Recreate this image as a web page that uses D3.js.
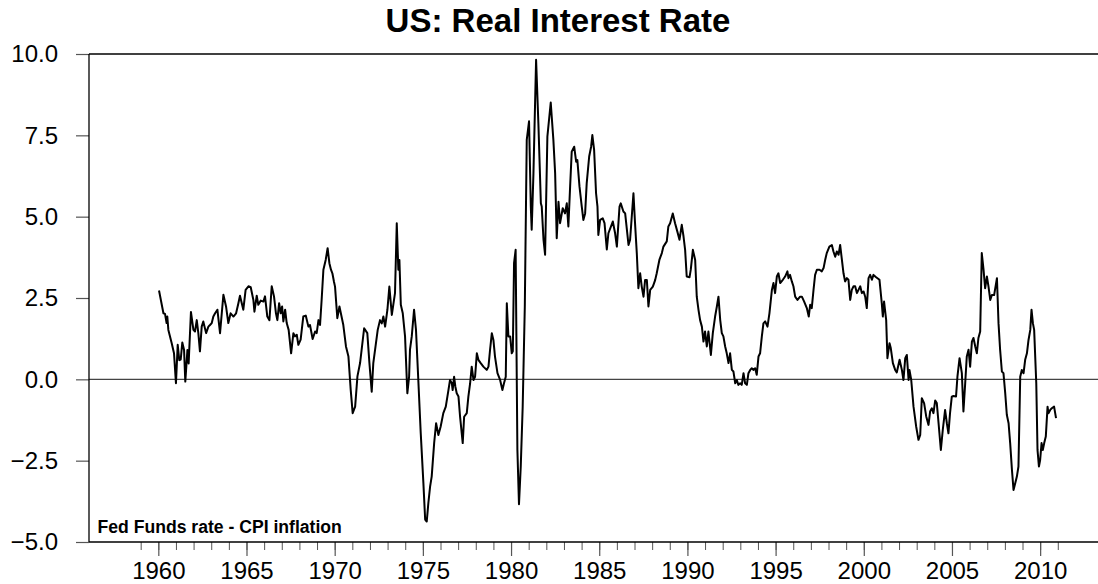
<!DOCTYPE html>
<html>
<head>
<meta charset="utf-8">
<script src="https://cdn.jsdelivr.net/npm/d3@7"></script>
<style>
  body { margin: 0; background: #fff; }
  svg { display: block; font-family: "Liberation Sans", Arial, sans-serif; }
</style>
</head>
<body>
<script>
// real rate readings, [year, percent], grouped by decade
var rate1960s = [[1960.04,2.73],[1960.29,2.03],[1960.38,2.01],[1960.47,1.73],[1960.51,1.93],[1960.57,1.52],[1960.76,1.11],[1960.89,0.8],[1961.0,-0.12],[1961.1,1.06],[1961.19,0.59],[1961.27,0.61],[1961.36,1.13],[1961.46,0.9],[1961.53,-0.07],[1961.65,0.9],[1961.72,0.49],[1961.85,2.07],[1961.99,1.52],[1962.08,1.47],[1962.18,1.82],[1962.27,1.42],[1962.36,0.86],[1962.46,1.62],[1962.55,1.78],[1962.71,1.42],[1962.84,1.62],[1962.93,1.67],[1963.03,1.73],[1963.12,1.93],[1963.22,2.03],[1963.35,2.14],[1963.5,1.42],[1963.69,2.6],[1963.84,2.24],[1963.97,1.73],[1964.1,2.03],[1964.26,1.93],[1964.41,2.03],[1964.54,2.34],[1964.63,2.57],[1964.82,2.14],[1964.95,2.75],[1965.11,2.86],[1965.24,2.83],[1965.39,2.44],[1965.45,2.08],[1965.58,2.57],[1965.67,2.29],[1965.81,2.42],[1965.96,2.39],[1966.05,2.55],[1966.18,1.93],[1966.3,1.82],[1966.43,2.86],[1966.56,2.55],[1966.67,2.03],[1966.75,1.82],[1966.85,2.34],[1966.94,2.03],[1967.02,2.24],[1967.09,1.78],[1967.19,2.14],[1967.28,1.73],[1967.39,1.52],[1967.53,0.8],[1967.66,1.42],[1967.75,1.32],[1967.85,1.37],[1967.94,1.06],[1968.07,1.22],[1968.22,1.93],[1968.36,1.96],[1968.51,1.62],[1968.6,1.67],[1968.75,1.24],[1968.89,1.47],[1968.98,1.42],[1969.08,1.82],[1969.17,1.67],[1969.26,2.44],[1969.36,3.37],[1969.49,3.67],[1969.6,4.03],[1969.7,3.57],[1969.79,3.37],[1969.87,3.26],[1969.96,3.0]];
var rate1970s = [[1970.02,2.85],[1970.15,1.88],[1970.27,2.24],[1970.49,1.67],[1970.64,1.01],[1970.78,0.7],[1970.91,-0.33],[1971.02,-1.04],[1971.16,-0.84],[1971.29,0.09],[1971.44,0.5],[1971.67,1.57],[1971.85,1.42],[1971.97,0.5],[1972.1,-0.38],[1972.19,0.5],[1972.44,1.52],[1972.57,1.82],[1972.67,1.72],[1972.76,1.93],[1972.86,1.62],[1972.99,2.14],[1973.1,2.85],[1973.24,1.98],[1973.42,2.65],[1973.52,4.8],[1973.61,3.37],[1973.67,3.67],[1973.75,2.29],[1973.86,2.03],[1973.99,1.32],[1974.12,-0.43],[1974.22,0.08],[1974.27,0.91],[1974.37,1.32],[1974.5,2.14],[1974.61,1.52],[1974.75,-0.12],[1974.88,-1.66],[1975.03,-3.19],[1975.13,-4.31],[1975.22,-4.37],[1975.31,-3.81],[1975.41,-3.3],[1975.5,-2.99],[1975.64,-1.96],[1975.75,-1.35],[1975.88,-1.71],[1976.01,-1.45],[1976.16,-1.04],[1976.3,-0.84],[1976.45,-0.33],[1976.54,-0.02],[1976.64,-0.12],[1976.69,-0.33],[1976.77,0.08],[1976.84,-0.22],[1976.92,-0.43],[1977.02,-0.53],[1977.11,-1.15],[1977.26,-1.96],[1977.34,-1.15],[1977.49,-1.04],[1977.58,-0.53],[1977.68,-0.12],[1977.77,0.39],[1977.87,-0.02],[1977.96,0.08],[1978.06,0.8],[1978.15,0.6],[1978.28,0.5],[1978.43,0.39],[1978.62,0.29],[1978.72,0.39],[1978.81,0.91],[1978.91,1.42],[1979.0,1.21],[1979.09,0.7],[1979.23,0.19],[1979.38,-0.02],[1979.51,-0.33],[1979.6,-0.12],[1979.7,0.08],[1979.76,2.34],[1979.85,1.32],[1979.95,1.32]];
var rate1980s = [[1980.04,0.8],[1980.1,0.86],[1980.17,3.57],[1980.26,3.98],[1980.36,-2.17],[1980.45,-3.84],[1980.55,-2.68],[1980.66,-0.84],[1980.78,2.24],[1980.89,7.36],[1981.02,7.93],[1981.12,5.31],[1981.17,4.6],[1981.27,6.33],[1981.42,9.82],[1981.55,7.87],[1981.69,5.41],[1981.74,5.31],[1981.84,4.29],[1981.93,3.83],[1982.06,7.46],[1982.25,8.51],[1982.4,7.36],[1982.5,6.33],[1982.59,4.34],[1982.69,5.46],[1982.78,4.8],[1982.93,5.26],[1983.06,5.1],[1983.16,5.41],[1983.25,4.7],[1983.35,5.93],[1983.44,7.0],[1983.58,7.15],[1983.69,6.69],[1983.76,6.74],[1983.88,5.93],[1984.01,5.31],[1984.1,4.9],[1984.2,5.1],[1984.29,6.03],[1984.43,6.85],[1984.54,7.15],[1984.61,7.51],[1984.71,7.05],[1984.82,5.72],[1984.9,5.31],[1984.95,4.44],[1985.05,4.9],[1985.2,4.95],[1985.3,4.8],[1985.43,3.99],[1985.52,4.49],[1985.77,4.85],[1985.9,4.49],[1986.0,4.08],[1986.15,5.31],[1986.22,5.41],[1986.37,5.16],[1986.47,5.1],[1986.66,4.13],[1986.75,4.29],[1986.94,5.72],[1987.03,4.8],[1987.13,3.88],[1987.22,2.8],[1987.32,3.26],[1987.41,2.85],[1987.51,2.54],[1987.6,3.05],[1987.7,3.05],[1987.79,2.24],[1987.89,2.75],[1988.04,2.85],[1988.17,3.05],[1988.26,3.26],[1988.41,3.67],[1988.55,3.88],[1988.64,4.08],[1988.83,4.24],[1988.92,4.7],[1989.02,4.8],[1989.17,5.1],[1989.3,4.8],[1989.43,4.54],[1989.55,4.29],[1989.68,4.75],[1989.78,4.39],[1989.87,3.98],[1989.96,3.16]];
var rate1990s = [[1990.12,3.14],[1990.19,3.37],[1990.31,3.98],[1990.44,3.67],[1990.53,2.54],[1990.63,2.13],[1990.72,1.82],[1990.82,1.62],[1990.91,1.16],[1991.0,1.47],[1991.1,1.01],[1991.19,1.47],[1991.33,0.75],[1991.44,1.42],[1991.57,1.93],[1991.67,2.24],[1991.76,2.54],[1991.86,1.82],[1991.95,1.42],[1992.04,1.32],[1992.14,1.01],[1992.23,0.8],[1992.33,0.5],[1992.42,0.8],[1992.52,0.29],[1992.61,0.24],[1992.71,-0.12],[1992.8,-0.02],[1992.89,-0.17],[1992.99,-0.12],[1993.08,-0.17],[1993.18,0.19],[1993.27,-0.12],[1993.37,-0.17],[1993.46,0.19],[1993.56,0.29],[1993.65,0.34],[1993.75,0.29],[1993.84,0.34],[1993.93,0.14],[1994.03,0.7],[1994.12,0.8],[1994.22,1.32],[1994.31,1.72],[1994.41,1.78],[1994.54,1.62],[1994.65,2.03],[1994.79,2.75],[1994.88,2.96],[1994.97,2.65],[1995.07,3.16],[1995.16,3.26],[1995.26,2.96],[1995.41,3.06],[1995.54,3.16],[1995.67,3.32],[1995.73,3.11],[1995.82,3.21],[1995.92,3.01],[1996.01,2.86],[1996.11,2.54],[1996.24,2.44],[1996.39,2.54],[1996.49,2.54],[1996.62,2.39],[1996.77,2.19],[1996.88,1.93],[1996.96,2.29],[1997.05,2.19],[1997.15,2.75],[1997.24,3.21],[1997.34,3.37],[1997.49,3.37],[1997.62,3.32],[1997.72,3.42],[1997.81,3.67],[1997.9,3.88],[1998.05,4.08],[1998.19,4.13],[1998.28,3.93],[1998.38,3.77],[1998.47,3.93],[1998.57,3.83],[1998.66,4.13],[1998.76,3.67],[1998.85,3.26],[1998.94,3.01],[1999.04,3.11],[1999.13,3.06],[1999.23,2.44],[1999.32,2.75],[1999.42,2.86],[1999.51,2.86],[1999.61,2.65],[1999.7,2.75],[1999.8,2.86],[1999.89,2.65],[1999.99,2.7]];
var rate2000s = [[2000.08,2.54],[2000.17,2.19],[2000.27,3.11],[2000.36,3.21],[2000.46,3.06],[2000.55,3.21],[2000.7,3.14],[2000.89,3.06],[2001.02,2.34],[2001.08,1.93],[2001.15,2.39],[2001.27,1.82],[2001.34,0.65],[2001.46,1.11],[2001.53,0.96],[2001.65,0.5],[2001.78,0.29],[2001.87,0.21],[2002.03,0.6],[2002.16,0.29],[2002.25,-0.02],[2002.35,0.65],[2002.44,0.75],[2002.54,-0.02],[2002.59,0.29],[2002.69,-0.02],[2002.82,-0.84],[2002.97,-1.45],[2003.1,-1.86],[2003.2,-1.71],[2003.29,-0.58],[2003.42,-0.73],[2003.54,-1.14],[2003.67,-1.4],[2003.76,-0.99],[2003.86,-0.89],[2003.95,-1.04],[2004.05,-0.65],[2004.14,-0.73],[2004.24,-1.35],[2004.37,-2.17],[2004.48,-1.55],[2004.61,-0.94],[2004.71,-1.35],[2004.8,-1.66],[2004.89,-1.04],[2004.99,-0.53],[2005.08,-0.51],[2005.23,-0.53],[2005.31,0.08],[2005.43,0.65],[2005.56,0.19],[2005.65,-0.99],[2005.75,-0.12],[2005.84,0.7],[2005.94,0.91],[2006.03,0.39],[2006.13,1.16],[2006.22,1.27],[2006.32,1.01],[2006.41,0.8],[2006.5,1.27],[2006.6,1.47],[2006.69,3.88],[2006.79,3.37],[2006.88,2.8],[2006.98,3.16],[2007.07,2.86],[2007.17,2.44],[2007.26,2.59],[2007.39,2.59],[2007.55,3.11],[2007.64,1.72],[2007.73,0.91],[2007.83,0.24],[2007.92,0.19],[2008.02,-0.43],[2008.11,-1.09],[2008.21,-1.35],[2008.3,-1.96],[2008.4,-2.78],[2008.49,-3.4],[2008.59,-3.19],[2008.68,-2.99],[2008.77,-2.68],[2008.87,0.08],[2008.96,0.29],[2009.06,0.19],[2009.15,0.6],[2009.25,0.8],[2009.34,1.21],[2009.44,1.52],[2009.51,2.14],[2009.59,1.72],[2009.66,1.52],[2009.78,-0.12],[2009.85,-2.17],[2009.93,-2.68]];
var rate2010s = [[2010.0,-2.48],[2010.08,-1.96],[2010.15,-2.17],[2010.23,-1.96],[2010.32,-1.76],[2010.42,-0.84],[2010.47,-1.04],[2010.57,-0.94],[2010.66,-0.89],[2010.79,-0.84],[2010.9,-1.19]];

var yTicks = [-5, -2.5, 0, 2.5, 5, 7.5, 10];
var xMajorTicks = [1960, 1965, 1970, 1975, 1980, 1985, 1990, 1995, 2000, 2005, 2010];
var xMinorTicks = d3.range(1959, 2012);

var titleText = "US: Real Interest Rate";
var noteText = "Fed Funds rate - CPI inflation";

var realRate = rate1960s.concat(rate1970s, rate1980s, rate1990s, rate2000s, rate2010s);

var width = 1098, height = 584;
var plot = {left: 89, top: 54, bottom: 542, right: 1098};

var x = d3.scaleLinear().domain([1956.07, 2013.28]).range([plot.left, plot.right]);
var y = d3.scaleLinear().domain([-5, 10]).range([plot.bottom, plot.top]);

var svg = d3.select("body").append("svg")
	.attr("width", width)
	.attr("height", height);

// TITLE
svg.append("text")
	.attr("x", 558)
	.attr("y", 32)
	.attr("text-anchor", "middle")
	.style("font-size", "33px")
	.style("font-weight", "bold")
	.text(titleText);

// zero line
svg.append("line")
	.attr("x1", plot.left).attr("x2", plot.right)
	.attr("y1", y(0)).attr("y2", y(0))
	.attr("stroke", "#444")
	.attr("stroke-width", 1.2);

// series
var line = d3.line()
	.x(function(d) { return x(d[0]); })
	.y(function(d) { return y(d[1]); });

svg.append("path")
	.datum(realRate)
	.attr("fill", "none")
	.attr("stroke", "#000")
	.attr("stroke-width", 2)
	.attr("stroke-linejoin", "round")
	.attr("d", line);

// AXIS
var yAxis = svg.append("g")
	.attr("transform", "translate(" + plot.left + ",0)")
	.call(d3.axisLeft(y).tickValues(yTicks).tickSize(13).tickPadding(18)
		.tickFormat(d3.format(".1f")));
yAxis.select(".domain").remove();
yAxis.selectAll("line").attr("stroke", "#555").attr("stroke-width", 1.2);
yAxis.selectAll("text")
	.style("font-size", "24px")
	.attr("fill", "#000")
	.attr("font-family", "Liberation Sans, Arial, sans-serif");

var xMinor = svg.append("g")
	.attr("transform", "translate(0," + plot.bottom + ")")
	.call(d3.axisBottom(x).tickValues(xMinorTicks).tickSize(8).tickFormat(""));
xMinor.select(".domain").remove();
xMinor.selectAll("line").attr("stroke", "#555");

var xAxis = svg.append("g")
	.attr("transform", "translate(0," + plot.bottom + ")")
	.call(d3.axisBottom(x).tickValues(xMajorTicks).tickSize(14).tickPadding(6)
		.tickFormat(d3.format("d")));
xAxis.select(".domain").remove();
xAxis.selectAll("line").attr("stroke", "#555").attr("stroke-width", 1.2);
xAxis.selectAll("text")
	.style("font-size", "24px")
	.attr("fill", "#000")
	.attr("font-family", "Liberation Sans, Arial, sans-serif");

// frame: left, top, bottom
svg.append("line")
	.attr("x1", plot.left).attr("x2", plot.left).attr("y1", plot.top).attr("y2", plot.bottom)
	.attr("stroke", "#000").attr("stroke-width", 1.3);
svg.append("line")
	.attr("x1", plot.left).attr("x2", plot.right).attr("y1", plot.top).attr("y2", plot.top)
	.attr("stroke", "#000").attr("stroke-width", 1.3);
svg.append("line")
	.attr("x1", plot.left).attr("x2", plot.right).attr("y1", plot.bottom).attr("y2", plot.bottom)
	.attr("stroke", "#000").attr("stroke-width", 1.3);

// note in the corner
svg.append("text")
	.attr("x", 97.5)
	.attr("y", 533)
	.style("font-size", "17.6px")
	.style("font-weight", "bold")
	.text(noteText);
</script>
</body>
</html>
